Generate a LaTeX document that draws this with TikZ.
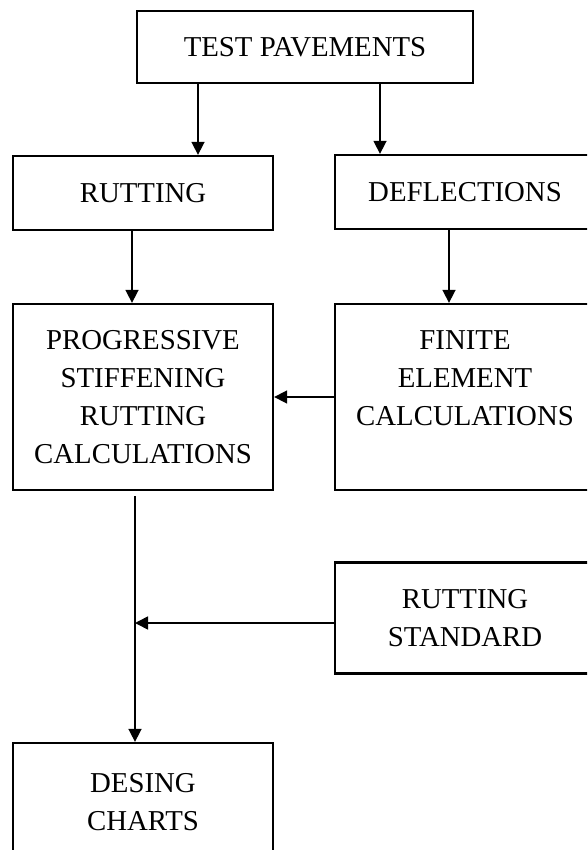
\documentclass[tikz,border=0pt]{standalone}
\usepackage{fontspec}
\setmainfont{Liberation Serif}
\usetikzlibrary{arrows.meta}
\begin{document}
\begin{tikzpicture}[x=1pt,y=-1pt,
  box/.style={draw, line width=2.3pt, rectangle, inner sep=0pt, align=center,
    font=\fontsize{28.8}{38}\selectfont},
  arr/.style={line width=1.6pt, -{Triangle[length=13pt,width=13pt]}}]
\useasboundingbox (0,0) rectangle (587,850);
\clip (0,0) rectangle (587,850);
\node[box, minimum width=336pt, minimum height=72pt] (tp) at (305,47) {TEST PAVEMENTS};
\node[box, minimum width=260pt, minimum height=74pt] (rut) at (143,193) {RUTTING};
\node[box, minimum width=260pt, minimum height=74pt] (def) at (465,192) {DEFLECTIONS};
\node[box, minimum width=260pt, minimum height=186pt] (psrc) at (143,397) {PROGRESSIVE\\STIFFENING\\RUTTING\\CALCULATIONS};
\node[box, minimum width=260pt, minimum height=186pt] (fec) at (465,397) {FINITE\\ELEMENT\\CALCULATIONS\\~};
\node[box, minimum width=260pt, minimum height=111pt] (rs) at (465,618) {RUTTING\\STANDARD};
\node[box, minimum width=260pt, minimum height=118pt] (dc) at (143,802) {DESING\\CHARTS};
\coordinate (g1) at (198,0);
\coordinate (g2) at (380,0);
\coordinate (g3) at (132,0);
\coordinate (g4) at (449,0);
\coordinate (g5) at (135,0);
\coordinate (j) at (135,623);
\draw[arr] (tp.south -| g1) -- (rut.north -| g1);
\draw[arr] (tp.south -| g2) -- (def.north -| g2);
\draw[arr] (rut.south -| g3) -- (psrc.north -| g3);
\draw[arr] (def.south -| g4) -- (fec.north -| g4);
\draw[arr] (fec.west) -- (psrc.east);
\draw[arr] ([yshift=-5pt]psrc.south -| g5) -- (dc.north -| g5);
\draw[arr] (rs.west |- j) -- (j);
\end{tikzpicture}
\end{document}
